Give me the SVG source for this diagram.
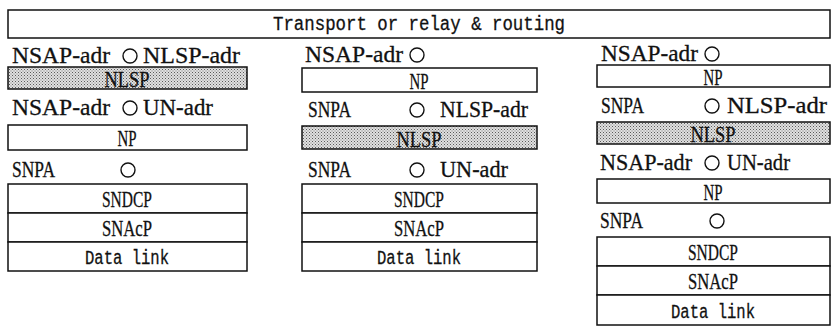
<svg xmlns="http://www.w3.org/2000/svg" width="833" height="329" viewBox="0 0 833 329">
<defs>
<pattern id="dots" width="3" height="3" patternUnits="userSpaceOnUse">
<rect width="3" height="3" fill="#e0e0e0"/>
<rect x="0" y="0" width="1" height="1" fill="#5a5a5a"/>
<rect x="1.5" y="1.5" width="1" height="1" fill="#7a7a7a"/>
</pattern>
<style>
.box{fill:#fff;stroke:#111;stroke-width:1.5}
.shade{fill:url(#dots);stroke:#111;stroke-width:1.5}
.sap{fill:#fff;stroke:#111;stroke-width:1.4}
.lbl{font-family:"Liberation Serif","Times New Roman",serif;font-size:23px;fill:#111;stroke:#111;stroke-width:0.3}
.in{font-family:"Liberation Serif","Times New Roman",serif;font-size:23px;fill:#111;stroke:#111;stroke-width:0.3;text-anchor:middle}
.mono{font-family:"Liberation Mono","Courier New",monospace;font-size:20px;fill:#111;stroke:#111;stroke-width:0.3;text-anchor:middle}
</style>
</defs>
<rect width="833" height="329" fill="#fff"/>

<g id="transport">
<rect class="box" x="8" y="10" width="822" height="28"/>
<text class="mono" x="419" y="30" textLength="292" lengthAdjust="spacingAndGlyphs">Transport or relay &amp; routing</text>
</g>

<!-- Column 1 -->
<g id="c1-sap1">
<text class="lbl" x="12" y="63" textLength="98" lengthAdjust="spacingAndGlyphs">NSAP-adr</text>
<circle class="sap" cx="130" cy="56" r="7"/>
<text class="lbl" x="143" y="63" textLength="97" lengthAdjust="spacingAndGlyphs">NLSP-adr</text>
</g>
<g id="c1-nlsp">
<rect class="shade" x="8" y="67" width="239" height="22"/>
<text class="in" x="127" y="87" textLength="45" lengthAdjust="spacingAndGlyphs">NLSP</text>
</g>
<g id="c1-sap2">
<text class="lbl" x="12" y="115" textLength="98" lengthAdjust="spacingAndGlyphs">NSAP-adr</text>
<circle class="sap" cx="130" cy="108" r="7"/>
<text class="lbl" x="143" y="115" textLength="70" lengthAdjust="spacingAndGlyphs">UN-adr</text>
</g>
<g id="c1-np">
<rect class="box" x="8" y="125" width="239" height="25"/>
<text class="in" x="127" y="146" textLength="19" lengthAdjust="spacingAndGlyphs">NP</text>
</g>
<g id="c1-sap3">
<text class="lbl" x="12" y="177" textLength="43" lengthAdjust="spacingAndGlyphs">SNPA</text>
<circle class="sap" cx="128" cy="170" r="7"/>
</g>
<g id="c1-sndcp">
<rect class="box" x="8" y="184" width="239" height="29"/>
<text class="in" x="127" y="207" textLength="50" lengthAdjust="spacingAndGlyphs">SNDCP</text>
</g>
<g id="c1-snacp">
<rect class="box" x="8" y="213" width="239" height="29"/>
<text class="in" x="127" y="236" textLength="50" lengthAdjust="spacingAndGlyphs">SNAcP</text>
</g>
<g id="c1-dl">
<rect class="box" x="8" y="242" width="239" height="29"/>
<text class="mono" x="127" y="264" textLength="84" lengthAdjust="spacingAndGlyphs">Data link</text>
</g>

<!-- Column 2 -->
<g id="c2-sap1">
<text class="lbl" x="305" y="62" textLength="98" lengthAdjust="spacingAndGlyphs">NSAP-adr</text>
<circle class="sap" cx="417" cy="55" r="7"/>
</g>
<g id="c2-np">
<rect class="box" x="302" y="68" width="235" height="24"/>
<text class="in" x="419" y="89" textLength="19" lengthAdjust="spacingAndGlyphs">NP</text>
</g>
<g id="c2-sap2">
<text class="lbl" x="308" y="117" textLength="43" lengthAdjust="spacingAndGlyphs">SNPA</text>
<circle class="sap" cx="417" cy="110" r="7"/>
<text class="lbl" x="440" y="117" textLength="88" lengthAdjust="spacingAndGlyphs">NLSP-adr</text>
</g>
<g id="c2-nlsp">
<rect class="shade" x="302" y="126" width="235" height="23"/>
<text class="in" x="419" y="147" textLength="45" lengthAdjust="spacingAndGlyphs">NLSP</text>
</g>
<g id="c2-sap3">
<text class="lbl" x="308" y="177" textLength="43" lengthAdjust="spacingAndGlyphs">SNPA</text>
<circle class="sap" cx="417" cy="170" r="7"/>
<text class="lbl" x="440" y="177" textLength="68" lengthAdjust="spacingAndGlyphs">UN-adr</text>
</g>
<g id="c2-sndcp">
<rect class="box" x="302" y="184" width="235" height="29"/>
<text class="in" x="419" y="207" textLength="50" lengthAdjust="spacingAndGlyphs">SNDCP</text>
</g>
<g id="c2-snacp">
<rect class="box" x="302" y="213" width="235" height="29"/>
<text class="in" x="419" y="236" textLength="50" lengthAdjust="spacingAndGlyphs">SNAcP</text>
</g>
<g id="c2-dl">
<rect class="box" x="302" y="242" width="235" height="29"/>
<text class="mono" x="419" y="264" textLength="84" lengthAdjust="spacingAndGlyphs">Data link</text>
</g>

<!-- Column 3 -->
<g id="c3-sap1">
<text class="lbl" x="601" y="61" textLength="97" lengthAdjust="spacingAndGlyphs">NSAP-adr</text>
<circle class="sap" cx="712" cy="54" r="7"/>
</g>
<g id="c3-np1">
<rect class="box" x="597" y="65" width="233" height="22"/>
<text class="in" x="713" y="85" textLength="19" lengthAdjust="spacingAndGlyphs">NP</text>
</g>
<g id="c3-sap2">
<text class="lbl" x="601" y="113" textLength="43" lengthAdjust="spacingAndGlyphs">SNPA</text>
<circle class="sap" cx="712" cy="106" r="7"/>
<text class="lbl" x="727" y="113" textLength="100" lengthAdjust="spacingAndGlyphs">NLSP-adr</text>
</g>
<g id="c3-nlsp">
<rect class="shade" x="597" y="122" width="233" height="22"/>
<text class="in" x="713" y="142" textLength="45" lengthAdjust="spacingAndGlyphs">NLSP</text>
</g>
<g id="c3-sap3">
<text class="lbl" x="600" y="170" textLength="92" lengthAdjust="spacingAndGlyphs">NSAP-adr</text>
<circle class="sap" cx="712" cy="163" r="7"/>
<text class="lbl" x="727" y="170" textLength="63" lengthAdjust="spacingAndGlyphs">UN-adr</text>
</g>
<g id="c3-np2">
<rect class="box" x="597" y="179" width="233" height="24"/>
<text class="in" x="713" y="200" textLength="19" lengthAdjust="spacingAndGlyphs">NP</text>
</g>
<g id="c3-sap4">
<text class="lbl" x="600" y="228" textLength="43" lengthAdjust="spacingAndGlyphs">SNPA</text>
<circle class="sap" cx="717" cy="221" r="7"/>
</g>
<g id="c3-sndcp">
<rect class="box" x="597" y="237" width="233" height="29"/>
<text class="in" x="713" y="260" textLength="50" lengthAdjust="spacingAndGlyphs">SNDCP</text>
</g>
<g id="c3-snacp">
<rect class="box" x="597" y="266" width="233" height="29"/>
<text class="in" x="713" y="289" textLength="50" lengthAdjust="spacingAndGlyphs">SNAcP</text>
</g>
<g id="c3-dl">
<rect class="box" x="597" y="295" width="233" height="30"/>
<text class="mono" x="713" y="318" textLength="84" lengthAdjust="spacingAndGlyphs">Data link</text>
</g>

<g id="connectors"></g>
</svg>
